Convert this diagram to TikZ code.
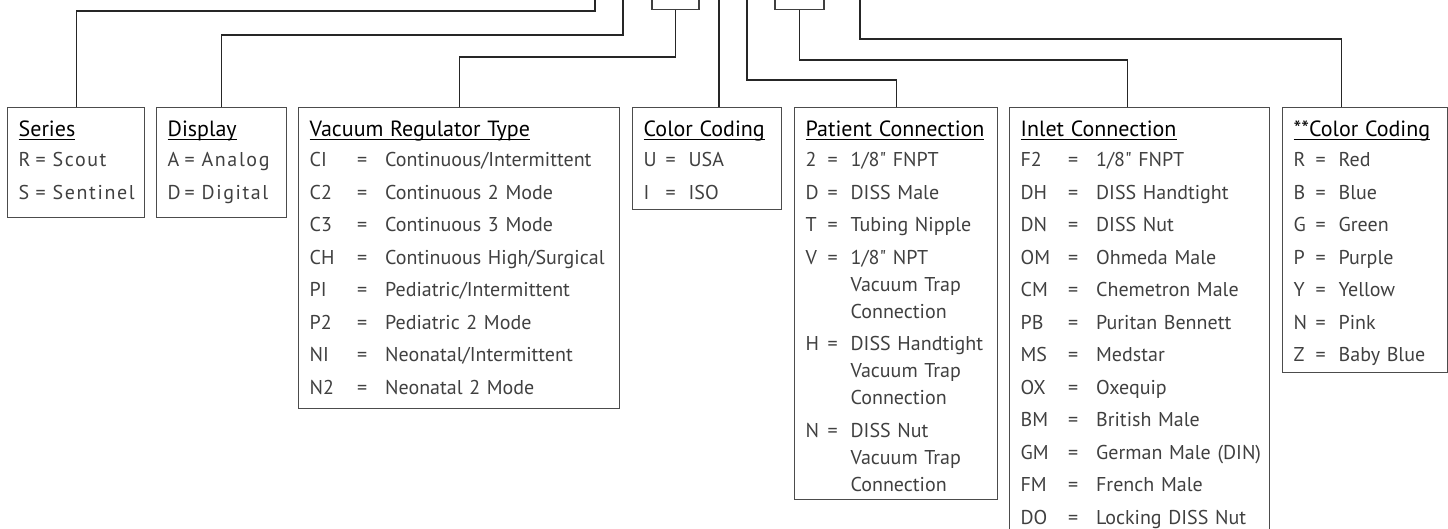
\documentclass[tikz,border=0pt]{standalone}
\usepackage{fontspec}
\usepackage{array}
\setmainfont{PT Sans}[Ligatures=TeXOff]
\newfontfamily\widesf{PT Sans}[Ligatures=TeXOff, LetterSpace=8]
\newcommand{\hdr}[1]{{\rmfamily\fontsize{11}{13.5}\selectfont\color{black}\underline{\smash{#1}}}}
\renewcommand{\arraystretch}{1.2037}

\begin{document}
\begin{tikzpicture}[x=0.5pt, y=-0.5pt,
        legend/.style={rectangle, draw=black!70, line width=0.65pt, anchor=north west, inner xsep=5.5pt, inner ysep=0pt, text height=14.5pt, font=\fontsize{10}{13.5}\selectfont, text=black!75},
        wide/.style={font=\widesf\fontsize{10}{13.5}\selectfont},
        slot/.style={rectangle, draw=black!75, line width=0.65pt, anchor=south, minimum height=30pt},
        wire/.style={draw=black!85, line width=0.65pt}
    ]
    \useasboundingbox (0,0) rectangle (1448,529);

    \node[slot, minimum width=23.5pt] (slota) at (675.5,10) {};
    \node[slot, minimum width=24.5pt] (slotb) at (799.5,10) {};

    \node[legend, wide, text width=57.5pt, text depth=40.5pt] (series) at (7,107) {%
        \begin{tabular}[t]{@{}p{5pt}@{}>{\centering\arraybackslash}p{12pt}@{}l@{}}
            \multicolumn{3}{@{}l@{}}{\hdr{Series}}\\[-1.25pt]
            R & = & Scout\\
            S & = & Sentinel
        \end{tabular}};
    \node[legend, wide, text width=54pt, text depth=40.5pt] (display) at (156,107) {%
        \begin{tabular}[t]{@{}p{5pt}@{}>{\centering\arraybackslash}p{12pt}@{}l@{}}
            \multicolumn{3}{@{}l@{}}{\hdr{Display}}\\[-1.25pt]
            A & = & Analog\\
            D & = & Digital
        \end{tabular}};
    \node[legend, text width=149.5pt, text depth=136pt] (vacuum) at (298,107) {%
        \begin{tabular}[t]{@{}p{14.75pt}@{}>{\centering\arraybackslash}p{23pt}@{}l@{}}
            \multicolumn{3}{@{}l@{}}{\hdr{Vacuum Regulator Type}}\\[-1.25pt]
            CI & = & Continuous/Intermittent\\
            C2 & = & Continuous 2 Mode\\
            C3 & = & Continuous 3 Mode\\
            CH & = & Continuous High/Surgical\\
            PI & = & Pediatric/Intermittent\\
            P2 & = & Pediatric 2 Mode\\
            NI & = & Neonatal/Intermittent\\
            N2 & = & Neonatal 2 Mode
        \end{tabular}};
    \node[legend, text width=63.5pt, text depth=36.5pt] (colora) at (632,107) {%
        \begin{tabular}[t]{@{}p{4.5pt}@{}>{\centering\arraybackslash}p{18pt}@{}l@{}}
            \multicolumn{3}{@{}l@{}}{\hdr{Color Coding}}\\[-1.25pt]
            U & = & USA\\
            I & = & ISO
        \end{tabular}};
    \node[legend, text width=90.5pt, text depth=181.5pt] (patient) at (794,107) {%
        \begin{tabular}[t]{@{}p{4.5pt}@{}>{\centering\arraybackslash}p{18pt}@{}l@{}}
            \multicolumn{3}{@{}l@{}}{\hdr{Patient Connection}}\\[-1.25pt]
            2 & = & 1/8" FNPT\\
            D & = & DISS Male\\
            T & = & Tubing Nipple\\
            V & = & 1/8" NPT\\[-2.75pt]
              &   & Vacuum Trap\\[-2.75pt]
              &   & Connection\\
            H & = & DISS Handtight\\[-2.75pt]
              &   & Vacuum Trap\\[-2.75pt]
              &   & Connection\\
            N & = & DISS Nut\\[-2.75pt]
              &   & Vacuum Trap\\[-2.75pt]
              &   & Connection
        \end{tabular}};
    \node[legend, text width=119pt, text depth=204.5pt] (inlet) at (1009,107) {%
        \begin{tabular}[t]{@{}p{14.75pt}@{}>{\centering\arraybackslash}p{23pt}@{}l@{}}
            \multicolumn{3}{@{}l@{}}{\hdr{Inlet Connection}}\\[-1.25pt]
            F2 & = & 1/8" FNPT\\
            DH & = & DISS Handtight\\
            DN & = & DISS Nut\\
            OM & = & Ohmeda Male\\
            CM & = & Chemetron Male\\
            PB & = & Puritan Bennett\\
            MS & = & Medstar\\
            OX & = & Oxequip\\
            BM & = & British Male\\
            GM & = & German Male (DIN)\\
            FM & = & French Male\\
            DO & = & Locking DISS Nut
        \end{tabular}};
    \node[legend, text width=71.5pt, text depth=118pt] (colorb) at (1282,107) {%
        \begin{tabular}[t]{@{}p{4.5pt}@{}>{\centering\arraybackslash}p{18pt}@{}l@{}}
            \multicolumn{3}{@{}l@{}}{\hdr{**Color Coding}}\\[-1.25pt]
            R & = & Red\\
            B & = & Blue\\
            G & = & Green\\
            P & = & Purple\\
            Y & = & Yellow\\
            N & = & Pink\\
            Z & = & Baby Blue
        \end{tabular}};

    \coordinate (seriesin) at (595,-5);
    \coordinate (displayin) at (623,-5);
    \coordinate (colorain) at (719,-5);
    \coordinate (patientin) at (747,-5);
    \coordinate (colorbin) at (860,-5);

    \draw[wire] (seriesin) -- ++(0,16) -| (series.north);
    \draw[wire] (displayin) -- ++(0,40) -| (display.north);
    \draw[wire] (slota.south) -- ++(0,47) -| (vacuum.north);
    \draw[wire] (colorain) -- (colorain |- colora.north);
    \draw[wire] (patientin) -- ++(0,85) -| (patient.north);
    \draw[wire] (slotb.south) -- ++(0,50) -| ([xshift=-6pt]inlet.north);
    \draw[wire] (colorbin) -- ++(0,44) -| ([xshift=-11.75pt]colorb.north);
\end{tikzpicture}
\end{document}
